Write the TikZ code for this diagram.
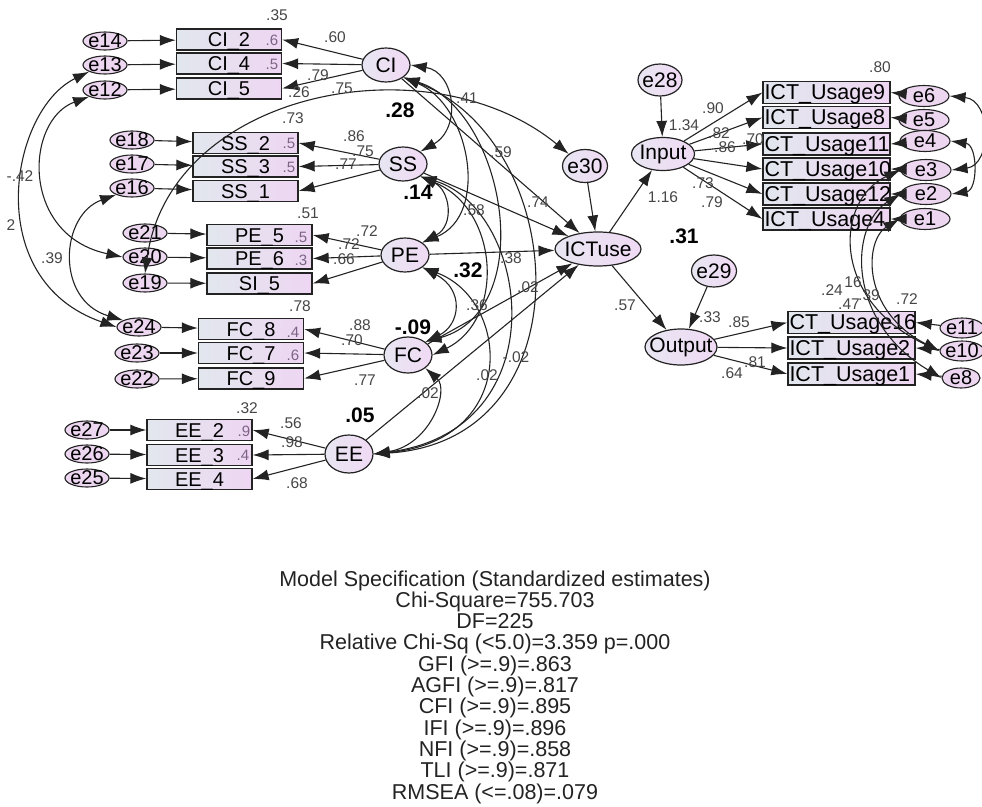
\documentclass[tikz,border=0pt]{standalone}
\usepackage{fontspec}
\setmainfont{Liberation Sans}
\usetikzlibrary{arrows.meta,shapes.geometric}
\definecolor{boxl}{RGB}{226,231,238}
\definecolor{boxr}{RGB}{238,214,242}
\definecolor{latl}{RGB}{232,230,242}
\definecolor{latr}{RGB}{240,218,244}
\definecolor{errc}{RGB}{236,214,240}
\definecolor{ink}{RGB}{35,35,35}
\definecolor{num}{RGB}{70,70,70}
\definecolor{rsq}{RGB}{125,100,135}

\begin{document}
\begin{tikzpicture}[x=1pt,y=1pt,yscale=-1,
  obs/.style={rectangle,draw=ink,line width=1.3pt,left color=boxl,right color=boxr,minimum width=105pt,minimum height=21pt,inner sep=0pt,text height=16pt,text depth=2pt,font=\fontsize{20}{20}\selectfont},
  ict/.style={obs,minimum width=127pt,minimum height=22pt,text width=124pt,align=left,font=\fontsize{21.5}{21.5}\selectfont},
  lat/.style={ellipse,draw=ink,line width=1.2pt,left color=latl,right color=latr,inner xsep=-8pt,inner ysep=-4pt,minimum width=48pt,minimum height=34pt,font=\fontsize{21}{21}\selectfont},
  err/.style={ellipse,draw=ink,line width=1.1pt,fill=errc,inner xsep=-8pt,inner ysep=-4pt,minimum width=44pt,minimum height=18pt,font=\fontsize{20}{20}\selectfont},
  reg/.style={draw=ink,line width=1.1pt,-{Latex[length=16pt,width=11pt]}},
  cov/.style={draw=ink,line width=1.1pt,{Latex[length=16pt,width=11pt]}-{Latex[length=16pt,width=11pt]}},
  val/.style={font=\fontsize{15.5}{15.5}\selectfont,text=num,inner sep=0pt},
  bval/.style={font=\fontsize{21}{21}\selectfont\bfseries,inner sep=0pt},
  sq/.style={font=\fontsize{15}{15}\selectfont,text=rsq,inner sep=0pt}
]
\useasboundingbox (0,0) rectangle (982,806);

%Left indicators
\node[obs] (ci2) at (229,39.5) {CI\_2};
\node[obs] (ci4) at (229,63.5) {CI\_4};
\node[obs] (ci5) at (229,88.5) {CI\_5};
\node[obs] (ss2) at (245.5,143) {SS\_2};
\node[obs] (ss3) at (245.5,166.5) {SS\_3};
\node[obs] (ss1) at (245.5,191) {SS\_1};
\node[obs] (pe5) at (259.5,235) {PE\_5};
\node[obs] (pe6) at (259.5,258.5) {PE\_6};
\node[obs] (si5) at (259.5,283.5) {SI\_5};
\node[obs] (fc8) at (251,329) {FC\_8};
\node[obs] (fc7) at (251,353) {FC\_7};
\node[obs] (fc9) at (251,378.5) {FC\_9};
\node[obs] (ee2) at (199.5,430) {EE\_2};
\node[obs] (ee3) at (199.5,455) {EE\_3};
\node[obs] (ee4) at (199.5,479) {EE\_4};

%Left errors
\node[err] (e14) at (105,41) {e14};
\node[err] (e13) at (105,65) {e13};
\node[err] (e12) at (105,90) {e12};
\node[err] (e18) at (132,140) {e18};
\node[err] (e17) at (132,164) {e17};
\node[err] (e16) at (132,188) {e16};
\node[err] (e21) at (145,233) {e21};
\node[err] (e20) at (145,257) {e20};
\node[err] (e19) at (145,283) {e19};
\node[err] (e24) at (139,327) {e24};
\node[err] (e23) at (137,353) {e23};
\node[err] (e22) at (137,379) {e22};
\node[err] (e27) at (87,430) {e27};
\node[err] (e26) at (87,454) {e26};
\node[err] (e25) at (87,478) {e25};

%Latents
\node[lat] (CI) at (386,65) {CI};
\node[lat] (SS) at (403,164) {SS};
\node[lat] (PE) at (405,255) {PE};
\node[lat,minimum height=36pt] (FC) at (408,355) {FC};
\node[lat,minimum height=38pt] (EE) at (349,454) {EE};
\node[lat,minimum width=45pt,minimum height=33pt] (e30) at (585,166) {e30};
\node[lat,minimum width=86pt] (ICTuse) at (598,249) {ICTuse};
\node[lat,minimum width=63pt,minimum height=33pt] (Input) at (663,154) {Input};
\node[lat,minimum width=44pt,minimum height=32pt] (e28) at (660,80) {e28};
\node[lat,minimum width=72pt,minimum height=36pt] (Output) at (681,347) {Output};
\node[lat,minimum width=45pt,minimum height=32pt] (e29) at (714,271) {e29};

%Right indicators
\node[ict] (u9) at (826.5,92.5) {ICT\_Usage9};
\node[ict] (u8) at (826.5,117.5) {ICT\_Usage8};
\node[ict] (u11) at (826.5,144) {CT\_Usage11};
\node[ict] (u10) at (826.5,169) {CT\_Usage10};
\node[ict] (u12) at (826.5,194) {CT\_Usage12};
\node[ict] (u4) at (826.5,219) {ICT\_Usage4};
\node[ict] (u16) at (851.5,322.5) {CT\_Usage16};
\node[ict] (u2) at (851.5,348) {ICT\_Usage2};
\node[ict] (u1) at (851.5,374) {ICT\_Usage1};

%Right errors
\node[err,minimum width=50pt,minimum height=21pt] (e6) at (924,96) {e6};
\node[err,minimum width=50pt,minimum height=21pt] (e5) at (924,120) {e5};
\node[err,minimum width=50pt,minimum height=21pt] (e4) at (925,141) {e4};
\node[err,minimum width=50pt,minimum height=21pt] (e3) at (926,170) {e3};
\node[err,minimum width=50pt,minimum height=21pt] (e2) at (926,194) {e2};
\node[err,minimum width=50pt,minimum height=21pt] (e1) at (925,219) {e1};
\node[err,minimum width=44pt,minimum height=20pt] (e11) at (962,328) {e11};
\node[err,minimum width=44pt,minimum height=20pt] (e10) at (962,351) {e10};
\node[err,minimum width=38pt,minimum height=20pt] (e8) at (961,378) {e8};

%Errors to indicators
\draw[reg] (e14) -- (ci2); \draw[reg] (e13) -- (ci4); \draw[reg] (e12) -- (ci5);
\draw[reg] (e18) -- (ss2); \draw[reg] (e17) -- (ss3); \draw[reg] (e16) -- (ss1);
\draw[reg] (e21) -- (pe5); \draw[reg] (e20) -- (pe6); \draw[reg] (e19) -- (si5);
\draw[reg] (e24) -- (fc8); \draw[reg] (e23) -- (fc7); \draw[reg] (e22) -- (fc9);
\draw[reg] (e27) -- (ee2); \draw[reg] (e26) -- (ee3); \draw[reg] (e25) -- (ee4);
\draw[reg] (e6) -- (u9.east); \draw[reg] (e5) -- (u8.east); \draw[reg] (e4) -- (u11.east);
\draw[reg] (e3) -- (u10.east); \draw[reg] (e2) -- (u12.east); \draw[reg] (e1) -- (u4.east);
\draw[reg] (e11) -- (u16.east); \draw[reg] (e10) -- (u2.east); \draw[reg] (e8) -- (u1.east);

%Loadings
\draw[reg] (CI) -- (ci2.east); \draw[reg] (CI) -- (ci4.east); \draw[reg] (CI) -- (ci5.east);
\draw[reg] (SS) -- (ss2.east); \draw[reg] (SS) -- (ss3.east); \draw[reg] (SS) -- (ss1.east);
\draw[reg] (PE) -- (pe5.east); \draw[reg] (PE) -- (pe6.east); \draw[reg] (PE) -- (si5.east);
\draw[reg] (FC) -- (fc8.east); \draw[reg] (FC) -- (fc7.east); \draw[reg] (FC) -- (fc9.east);
\draw[reg] (EE) -- (ee2.east); \draw[reg] (EE) -- (ee3.east); \draw[reg] (EE) -- (ee4.east);
\draw[reg] (Input) -- (u9.west); \draw[reg] (Input) -- (u8.west); \draw[reg] (Input) -- (u11.west);
\draw[reg] (Input) -- (u10.west); \draw[reg] (Input) -- (u12.west); \draw[reg] (Input) -- (u4.west);
\draw[reg] (Output) -- (u16.west); \draw[reg] (Output) -- (u2.west); \draw[reg] (Output) -- (u1.west);

%Structural paths
\draw[reg] (CI) -- (ICTuse);
\draw[reg] (SS) -- (ICTuse);
\draw[reg] (PE) -- (ICTuse);
\draw[reg] (FC) -- (ICTuse);
\draw[reg] (EE) -- (ICTuse);
\draw[reg] (e30) -- (ICTuse);
\draw[reg] (ICTuse) -- (Input);
\draw[reg] (ICTuse) -- (Output);
\draw[reg] (e28) -- (Input);
\draw[reg] (e29) -- (Output);

%Covariances between latents
\draw[cov] (CI.east) .. controls (455,72) and (462,128) .. (SS.north east);
\draw[cov] (CI.south east) .. controls (470,105) and (490,215) .. (PE.north east);
\draw[cov] (CI.south east) .. controls (505,110) and (540,310) .. (FC.north east);
\draw[cov] (CI.south east) .. controls (570,140) and (590,440) .. (EE.east);
\draw[cov] (SS.south east) .. controls (450,190) and (455,225) .. (PE.north east);
\draw[cov] (SS.south east) .. controls (500,210) and (505,320) .. (FC.east);
\draw[cov] (SS.south east) .. controls (530,210) and (560,430) .. (EE.east);
\draw[cov] (PE.south east) .. controls (465,290) and (460,325) .. (FC.north east);
\draw[cov] (PE.south east) .. controls (510,300) and (520,440) .. (EE.east);
\draw[cov] (FC.south east) .. controls (450,390) and (430,445) .. (EE.east);

%Covariances between errors
\draw[cov] (e13.south west) .. controls (10,110) and (-20,280) .. (e24.west);
\draw[cov] (e12.south west) .. controls (25,120) and (20,235) .. (e20.west);
\draw[cov] (e16.south west) .. controls (60,215) and (55,300) .. (e24.north west);
\draw[cov] (e19.north) .. controls (170,90) and (430,40) .. (e30.north west);
\draw[cov] (e6.east) .. controls (992,100) and (992,165) .. (e3.east);
\draw[cov] (e4.east) .. controls (978,145) and (978,190) .. (e2.east);
\draw[cov] (e3.west) .. controls (835,200) and (830,300) .. (e10.west);
\draw[cov] (e2.west) .. controls (850,225) and (845,320) .. (e8.west);
\draw[cov] (e1.west) .. controls (865,240) and (860,310) .. (e10.west);

% Text Node
\draw (277,15) node [val] (rCI2) {.35};
\draw (335,37) node [val] (wCI2) {.60};
\draw (272,40) node [sq] (qCI4) {.6};
\draw (272,64) node [sq] (qCI5) {.5};
\draw (318,75) node [val] (wCI5) {.79};
\draw (299,92) node [val] (rCI5) {.26};
\draw (342,88) node [val] (cE19) {.75};
\draw (293,118) node [val] (rSS2) {.73};
\draw (400,110) node [bval] (bCI) {.28};
\draw (467,98) node [val] (cCS) {.41};
\draw (354,136) node [val] (wSS2) {.86};
\draw (363,151) node [val] (wSS3) {.75};
\draw (346,164) node [val] (wSS1) {.77};
\draw (289,143) node [sq] (qSS3) {.5};
\draw (289,167) node [sq] (qSS1) {.5};
\draw (418,192) node [bval] (bSS) {.14};
\draw (501,152) node [val] (cCP) {.59};
\draw (538,202) node [val] (gCI) {.74};
\draw (474,210) node [val] (cSP) {.58};
\draw (308,213) node [val] (rPE5) {.51};
\draw (367,231) node [val] (wPE5) {.72};
\draw (349,244) node [val] (wPE6) {.72};
\draw (344,259) node [val] (wSI5) {.66};
\draw (301,237) node [sq] (qPE6) {.5};
\draw (301,260) node [sq] (qSI5) {.3};
\draw (468,270) node [bval] (bPE) {.32};
\draw (511,258) node [val] (cSF) {.38};
\draw (528,287) node [val] (gFC) {.02};
\draw (477,305) node [val] (cPF) {.36};
\draw (300,306) node [val] (rFC8) {.78};
\draw (413,327) node [bval] (bFC) {-.09};
\draw (360,325) node [val] (wFC8) {.88};
\draw (352,340) node [val] (wFC7) {.70};
\draw (293,332) node [sq] (qFC7) {.4};
\draw (293,355) node [sq] (qFC9) {.6};
\draw (365,380) node [val] (wFC9) {.77};
\draw (516,357) node [val] (cSE) {-.02};
\draw (487,375) node [val] (cPE) {.02};
\draw (428,393) node [val] (gEE) {.02};
\draw (360,415) node [bval] (bEE) {.05};
\draw (247,408) node [val] (rEE2) {.32};
\draw (291,423) node [val] (wEE2) {.56};
\draw (292,442) node [val] (wEE3) {.98};
\draw (244,431) node [sq] (qEE3) {.9};
\draw (243,455) node [sq] (qEE4) {.4};
\draw (297,483) node [val] (wEE4) {.68};
\draw (20,176) node [val] (cE13) {-.42};
\draw (11,225) node [val] (cE12) {2};
\draw (52,258) node [val] (cE16) {.39};
% Text Node
\draw (684,236) node [bval] (bICT) {.31};
\draw (684,125) node [val] (gE28) {1.34};
\draw (663,197) node [val] (gIn) {1.16};
\draw (625,305) node [val] (gOut) {.57};
\draw (713,108) node [val] (wU9) {.90};
\draw (719,133) node [val] (wU8) {.82};
\draw (725,147) node [val] (wU11) {.86};
\draw (753,139) node [val] (wU10) {.70};
\draw (703,183) node [val] (wU12) {.73};
\draw (712,202) node [val] (wU4) {.79};
\draw (880,67) node [val] (rU9) {.80};
\draw (710,317) node [val] (gE29) {.33};
\draw (739,322) node [val] (wU16) {.85};
\draw (755,362) node [val] (wU2) {.81};
\draw (732,373) node [val] (wU1) {.64};
\draw (832,290) node [val] (cR1) {.24};
\draw (853,282) node [val] (cR2) {16};
\draw (869,295) node [val] (cR3) {.39};
\draw (849,304) node [val] (cR4) {.47};
\draw (907,299) node [val] (rU16) {.72};

% Text Node
\draw (495,687) node [font=\fontsize{21.5}{21.3}\selectfont,text=ink,align=center,inner sep=0pt] (fit) {Model Specification (Standardized estimates)\\Chi-Square=755.703\\DF=225\\Relative Chi-Sq (<5.0)=3.359 p=.000\\GFI (>=.9)=.863\\AGFI (>=.9)=.817\\CFI (>=.9)=.895\\IFI (>=.9)=.896\\NFI (>=.9)=.858\\TLI (>=.9)=.871\\RMSEA (<=.08)=.079};

\end{tikzpicture}
\end{document}
